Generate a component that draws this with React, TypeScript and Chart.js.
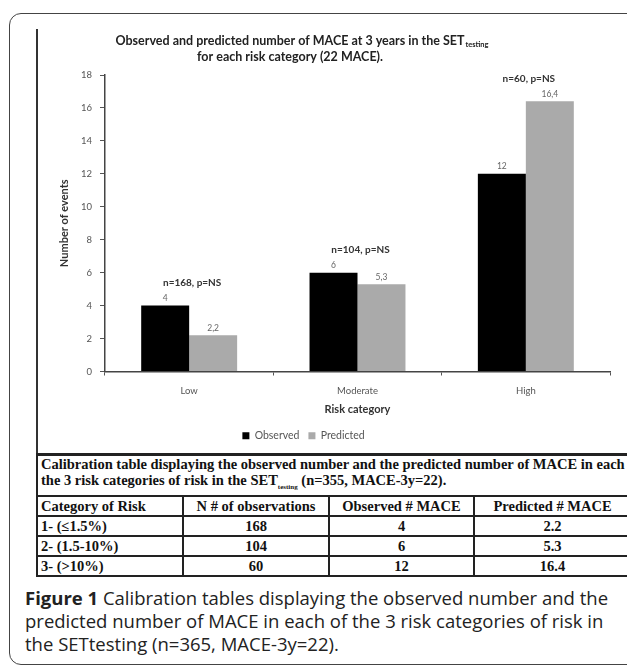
import React, { useEffect, useRef } from "react";
import { Chart, registerables } from "chart.js";

Chart.register(...registerables);

// ---- data ----
const categories = ["Low", "Moderate", "High"];
const observed = [4, 6, 12];
const predicted = [2.2, 5.3, 16.4];
const groupNotes = ["n=168, p=NS", "n=104, p=NS", "n=60, p=NS"];
const yMin = 0;
const yMax = 18;
const yStep = 2;
const seriesNames = ["Observed", "Predicted"];
const titleMain = "Observed and predicted number of MACE at 3 years in the SET";
const titleSub = "testing";
const titleLine2 = "for each risk category (22 MACE).";
const xTitle = "Risk category";
const yTitle = "Number of events";

const tableHeader = ["Category of Risk", "N # of observations", "Observed # MACE", "Predicted # MACE"];
const riskLabels = ["1- (\u22641.5%)", "2- (1.5-10%)", "3- (>10%)"];
const nObservations = [168, 104, 60];

const CHART_FONT = "Lato, 'Open Sans', sans-serif";

const fmtLabel = (v: number) => String(v).replace(".", ",");

const labelPlugin = {
  id: "valueLabels",
  afterDatasetsDraw(chart: any) {
    const ctx = chart.ctx;
    ctx.save();
    ctx.textAlign = "center";
    ctx.textBaseline = "bottom";
    ctx.font = `8.5px ${CHART_FONT}`;
    ctx.fillStyle = "#666";
    chart.data.datasets.forEach((ds: any, i: number) => {
      const meta = chart.getDatasetMeta(i);
      meta.data.forEach((el: any, j: number) => {
        ctx.fillText(fmtLabel(ds.data[j]), el.x, el.y - 3);
      });
    });
    const m0 = chart.getDatasetMeta(0);
    const m1 = chart.getDatasetMeta(1);
    ctx.font = `bold 10px ${CHART_FONT}`;
    ctx.fillStyle = "#333";
    ctx.textBaseline = "middle";
    groupNotes.forEach((t, j) => {
      const x = (m0.data[j].x + m1.data[j].x) / 2 + 3;
      const top = Math.min(m0.data[j].y, m1.data[j].y);
      ctx.fillText(t, x, top - 23);
    });
    ctx.restore();
  },
};

const titlePlugin = {
  id: "subTitle",
  afterDraw(chart: any) {
    const ctx = chart.ctx;
    ctx.save();
    const cx = 253;
    ctx.fillStyle = "#222";
    ctx.textBaseline = "middle";
    ctx.textAlign = "left";
    const big = `bold 12.5px ${CHART_FONT}`;
    const small = `bold 7.5px ${CHART_FONT}`;
    ctx.font = big;
    const w1 = ctx.measureText(titleMain).width;
    const x0 = cx - w1 / 2;
    ctx.fillText(titleMain, x0, 14);
    ctx.font = small;
    ctx.fillText(titleSub, x0 + w1 + 1, 18);
    ctx.font = big;
    ctx.textAlign = "center";
    ctx.fillText(titleLine2, cx, 30);
    ctx.restore();
  },
};

const legendShift = {
  id: "legendShift",
  afterLayout(chart: any) {
    const lg = chart.legend;
    if (lg) {
      lg.left -= 20;
      lg.right -= 20;
    }
  },
};

function BarChart() {
  const ref = useRef<HTMLCanvasElement | null>(null);
  useEffect(() => {
    if (!ref.current) return;
    const chart = new Chart(ref.current, {
      type: "bar",
      data: {
        labels: categories,
        datasets: [
          { label: seriesNames[0], data: observed, backgroundColor: "#000000", borderWidth: 0, barPercentage: 1, categoryPercentage: 0.57 },
          { label: seriesNames[1], data: predicted, backgroundColor: "#aaaaaa", borderWidth: 0, barPercentage: 1, categoryPercentage: 0.57 },
        ],
      },
      options: {
        responsive: false,
        animation: false,
        devicePixelRatio: 1,
        layout: { padding: { top: 48, right: 17, left: 0, bottom: 2 } },
        plugins: {
          legend: {
            position: "bottom",
            labels: { boxWidth: 7, boxHeight: 7, padding: 9, color: "#555", font: { family: CHART_FONT, size: 10.5 } },
          },
          title: { display: false },
          tooltip: { enabled: false },
        },
        scales: {
          x: {
            grid: { display: true, drawOnChartArea: false, drawTicks: true, tickLength: 4, color: "#555", offset: true },
            border: { display: true, color: "#444", width: 1.5 },
            ticks: { color: "#555", font: { family: CHART_FONT, size: 9.5 }, padding: 10 },
            title: { display: true, text: xTitle, color: "#333", font: { family: CHART_FONT, size: 11, weight: "bold" }, padding: { top: 4, bottom: 5 } },
            afterFit: (s: any) => { s.height = 50; },
          },
          y: {
            min: yMin,
            max: yMax,
            ticks: { stepSize: yStep, color: "#555", font: { family: CHART_FONT, size: 9.5 }, padding: 8 },
            grid: { display: true, drawOnChartArea: false, drawTicks: true, tickLength: 5, color: "#555" },
            border: { display: true, color: "#444", width: 1.5 },
            title: { display: true, text: yTitle, color: "#333", font: { family: CHART_FONT, size: 11, weight: "bold" }, padding: { top: 21, bottom: 0 } },
            afterFit: (s: any) => { s.width = 68; },
          },
        },
      },
      plugins: [labelPlugin, titlePlugin, legendShift],
    } as any);
    return () => chart.destroy();
  }, []);
  return <canvas ref={ref} width={590} height={426} style={{ position: "absolute", left: 37, top: 27, width: 590, height: 426 }} />;
}

const serif = "'Liberation Serif', 'Times New Roman', serif";
const cellBorder = "2px solid #222";

export default function App() {
  const tdBase: React.CSSProperties = {
    border: cellBorder,
    padding: "0 3px",
    height: 18,
    lineHeight: "18px",
    fontWeight: "bold",
    whiteSpace: "nowrap",
  };
  return (
    <div style={{ position: "absolute", left: 0, top: 0, width: 627, height: 670, overflow: "hidden", background: "#fff" }}>
      <div style={{ position: "absolute", left: 9, top: 13, width: 660, height: 652, border: "1.5px solid #444", borderRadius: 12, boxSizing: "border-box" }} />
      <div style={{ position: "absolute", left: 36, top: 29, width: 2, height: 426, background: "#333" }} />
      <BarChart />
      <table
        style={{
          position: "absolute",
          left: 36,
          top: 453,
          width: 594,
          borderCollapse: "collapse",
          tableLayout: "fixed",
          fontFamily: serif,
          fontSize: 14.5,
          color: "#111",
        }}
      >
        <colgroup>
          <col style={{ width: 146 }} />
          <col style={{ width: 146 }} />
          <col style={{ width: 145 }} />
          <col style={{ width: 157 }} />
        </colgroup>
        <tbody>
          <tr>
            <td colSpan={4} style={{ ...tdBase, height: 32, lineHeight: "16px", padding: "0 3px", borderTop: "3px solid #222" }}>
              Calibration table displaying the observed number and the predicted number of MACE in each of
              <br />
              the 3 risk categories of risk in the SET<sub style={{ fontSize: 7 }}>testing</sub> (n=355, MACE-3y=22).
            </td>
          </tr>
          <tr>
            <td style={{ ...tdBase, textAlign: "left" }}>{tableHeader[0]}</td>
            <td style={{ ...tdBase, textAlign: "center" }}>{tableHeader[1]}</td>
            <td style={{ ...tdBase, textAlign: "center" }}>{tableHeader[2]}</td>
            <td style={{ ...tdBase, textAlign: "center" }}>{tableHeader[3]}</td>
          </tr>
          {riskLabels.map((r, i) => (
            <tr key={r}>
              <td style={{ ...tdBase, textAlign: "left" }}>{r}</td>
              <td style={{ ...tdBase, textAlign: "center" }}>{nObservations[i]}</td>
              <td style={{ ...tdBase, textAlign: "center" }}>{observed[i]}</td>
              <td style={{ ...tdBase, textAlign: "center" }}>{predicted[i]}</td>
            </tr>
          ))}
        </tbody>
      </table>
      <div
        style={{
          position: "absolute",
          left: 25,
          top: 586,
          fontFamily: "'Open Sans', sans-serif",
          fontSize: 18.5,
          lineHeight: "23px",
          color: "#222",
          whiteSpace: "nowrap",
        }}
      >
        <b>Figure 1</b> Calibration tables displaying the observed number and the
        <br />
        predicted number of MACE in each of the 3 risk categories of risk in
        <br />
        the SETtesting (n=365, MACE-3y=22).
      </div>
    </div>
  );
}
